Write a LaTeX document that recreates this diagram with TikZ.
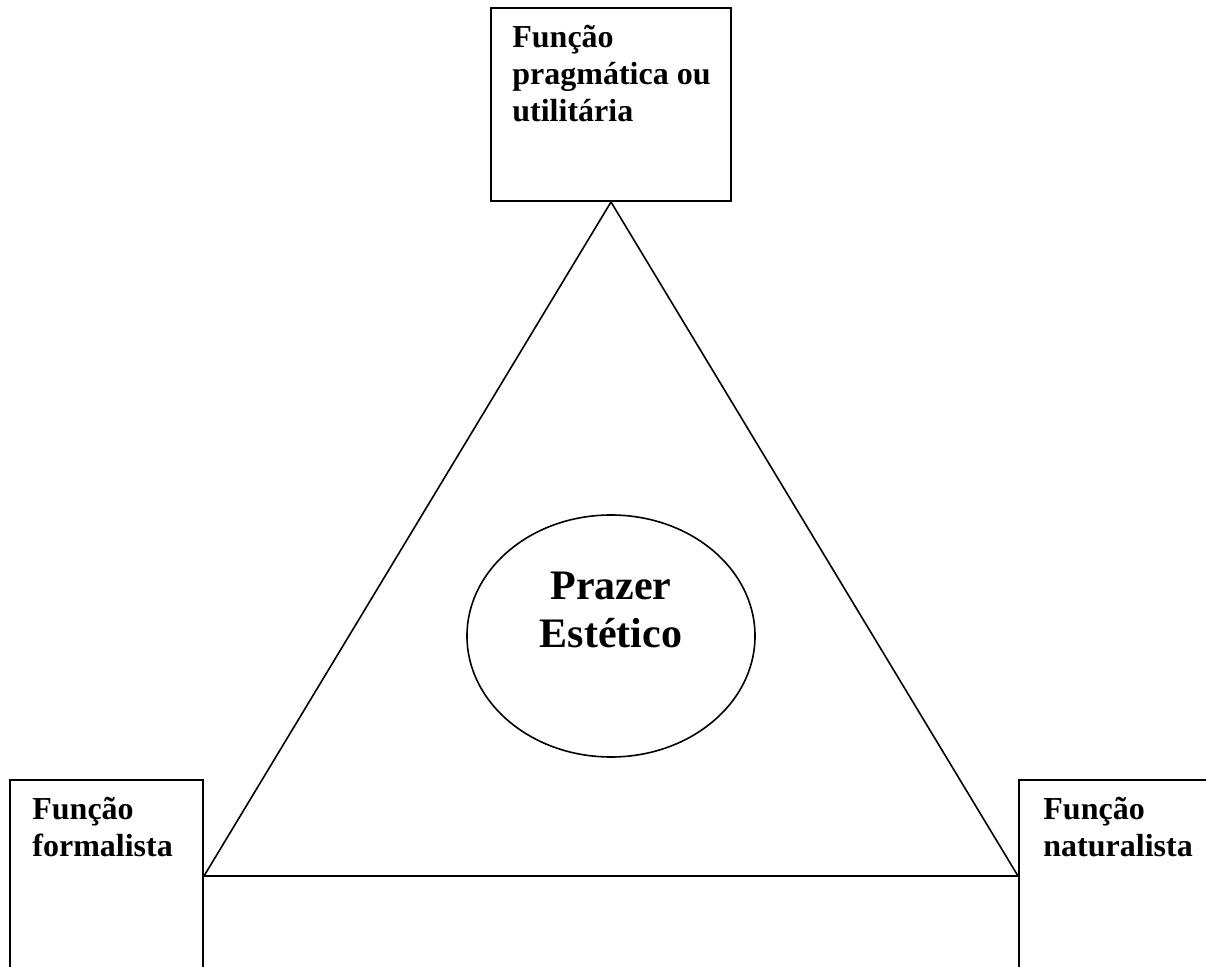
\documentclass[tikz,border=0pt]{standalone}
\usepackage{fontspec}
\setmainfont{Liberation Serif}
\usetikzlibrary{shapes.geometric}
\begin{document}
\begin{tikzpicture}[x=0.5pt,y=-0.5pt,
  boxstyle/.style={draw=black,line width=1pt,rectangle,inner sep=0pt},
  lbl/.style={anchor=base west,inner sep=0pt,font=\fontsize{16}{18.5}\selectfont\bfseries},
  big/.style={anchor=base,inner sep=0pt,font=\fontsize{21}{24}\selectfont\bfseries},
  edge/.style={draw=black,line width=0.8pt}]
\useasboundingbox (0,0) rectangle (1206,967);
\fill[white] (0,0) rectangle (1206,967);
\begin{scope}
\clip (0,0) rectangle (1206,967);
% boxes
\node[boxstyle,minimum width=120pt,minimum height=96.5pt] (top) at (611,104.5) {};
\node[boxstyle,minimum width=96.5pt,minimum height=120pt] (left) at (106.5,900) {};
\node[boxstyle,minimum width=120pt,minimum height=120pt] (right) at (1139,900) {};
% texts
\node[lbl] (t1) at (512,48) {Função};
\node[lbl] (t2) at (512,85) {pragmática ou};
\node[lbl] (t3) at (512,122) {utilitária};
\node[lbl] (l1) at (32,820) {Função};
\node[lbl] (l2) at (32,857) {formalista};
\node[lbl] (r1) at (1043,820) {Função};
\node[lbl] (r2) at (1043,857) {naturalista};
% triangle
\coordinate (bl) at (left.east |- 0,876);
\coordinate (br) at (right.west |- 0,876);
\draw[edge,line join=miter] (top.south) -- (bl) -- (br) -- cycle;
% ellipse
\node[draw=black,line width=0.8pt,ellipse,minimum width=144pt,minimum height=121pt,inner sep=0pt] (ell) at (611,636) {};
\node[big] (p1) at (611,600) {Prazer};
\node[big] (p2) at (611,648) {Estético};
\end{scope}
\end{tikzpicture}
\end{document}
